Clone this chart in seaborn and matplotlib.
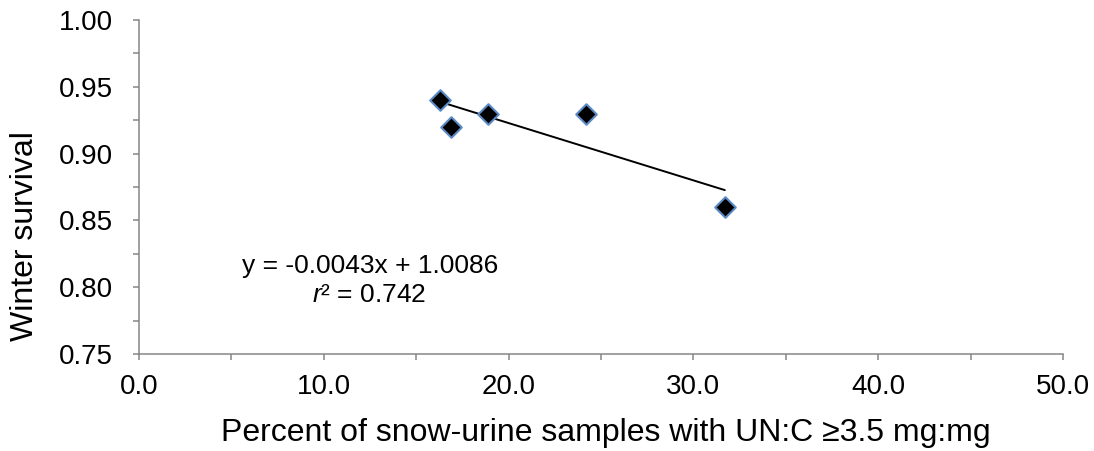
import numpy as np
import pandas as pd
import matplotlib
matplotlib.use("Agg")
import matplotlib.pyplot as plt
from matplotlib.ticker import MultipleLocator, FormatStrFormatter
import seaborn as sns

# Percent of snow-urine samples with UN:C >= 3.5 mg:mg, and winter survival
pct_high_unc = [16.3, 16.9, 18.9, 24.2, 31.7]
winter_survival = [0.94, 0.92, 0.93, 0.93, 0.86]

x_label = "Percent of snow-urine samples with UN:C \u22653.5 mg:mg"
y_label = "Winter survival"

df = pd.DataFrame({"pct": pct_high_unc, "surv": winter_survival})

sns.set_theme(style="white")
plt.rcParams["font.family"] = ["Liberation Sans", "DejaVu Sans"]
plt.rcParams["mathtext.fontset"] = "custom"
plt.rcParams["mathtext.rm"] = "Liberation Sans"
plt.rcParams["mathtext.it"] = "Liberation Sans:italic"

fig = plt.figure(figsize=(10.94, 4.51), dpi=100)
ax = fig.add_axes([0.127, 0.215, 0.9717 - 0.127, 0.9557 - 0.215])

# Least-squares fit drawn over the data range
slope, intercept = np.polyfit(df["pct"], df["surv"], 1)
r2 = np.corrcoef(df["pct"], df["surv"])[0, 1] ** 2
sns.regplot(data=df, x="pct", y="surv", scatter=False, ci=None, truncate=True,
            color="black", line_kws={"linewidth": 1.4}, ax=ax)

sns.scatterplot(data=df, x="pct", y="surv", marker="D", s=110,
                color="black", edgecolor="#5b8ac6", linewidth=1.5,
                zorder=3, ax=ax)

ax.set_xlim(0, 50)
ax.set_ylim(0.75, 1.00)
ax.xaxis.set_major_locator(MultipleLocator(10))
ax.xaxis.set_minor_locator(MultipleLocator(5))
ax.yaxis.set_major_locator(MultipleLocator(0.05))
ax.yaxis.set_minor_locator(MultipleLocator(0.025))
ax.xaxis.set_major_formatter(FormatStrFormatter("%.1f"))
ax.yaxis.set_major_formatter(FormatStrFormatter("%.2f"))

axis_gray = "#868686"
for side in ("top", "right"):
    ax.spines[side].set_visible(False)
for side in ("left", "bottom"):
    ax.spines[side].set_color(axis_gray)
    ax.spines[side].set_linewidth(1.1)

ax.tick_params(axis="both", which="both", direction="out", length=4.5,
               width=1.1, color=axis_gray, left=True, bottom=True)
ax.tick_params(axis="y", which="major", labelsize=20, labelcolor="black", pad=14)
ax.tick_params(axis="x", which="major", labelsize=20, labelcolor="black", pad=10)

ax.set_xlabel(x_label, fontsize=23, color="black")
ax.set_ylabel(y_label, fontsize=23, color="black")
ax.yaxis.set_label_coords(-0.107, 0.353)
ax.xaxis.set_label_coords(0.505, -0.19)

ax.text(12.5, 0.8162, f"y = {slope:.4f}x + {intercept:.4f}", fontsize=19,
        ha="center", va="center", color="black")
ax.text(12.45, 0.7942, "$\\mathit{r}$\u00b2 = " + f"{r2:.3f}", fontsize=19,
        ha="center", va="center", color="black")

fig.savefig("out.png", dpi=100)
